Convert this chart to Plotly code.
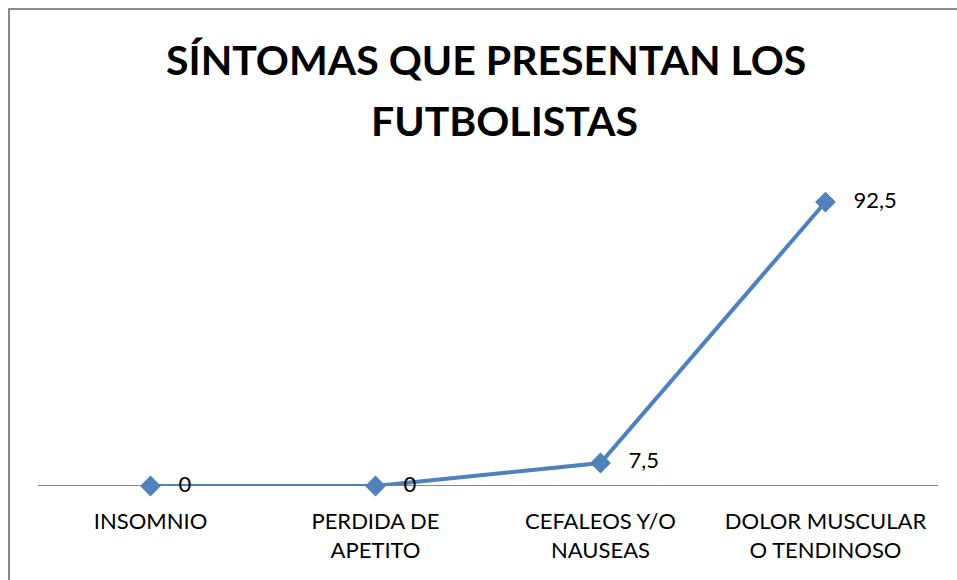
import plotly.graph_objects as go

categories = ["INSOMNIO", "PERDIDA DE<br>APETITO", "CEFALEOS Y/O<br>NAUSEAS", "DOLOR MUSCULAR<br>O TENDINOSO"]
values = [0, 0, 7.5, 92.5]
labels = ["0", "0", "7,5", "92,5"]
title_lines = ["SÍNTOMAS QUE PRESENTAN LOS", "FUTBOLISTAS"]

W, H = 957, 580
L, R, T, B = 38, 19, 179, 94
plot_w = W - L - R
plot_h = H - T - B
FONT = "Lato, Carlito, sans-serif"


def px_to_paper(px, py):
    return (px - L) / plot_w, (H - B - py) / plot_h


fig = go.Figure(go.Scatter(
    x=list(range(len(categories))),
    y=values,
    mode="lines+markers+text",
    line=dict(color="#4F81BD", width=4),
    marker=dict(symbol="diamond", size=16, color="#4F81BD"),
    text=["   " + s for s in labels],
    textposition="middle right",
    textfont=dict(family=FONT, size=22, color="black"),
    cliponaxis=False,
))

# chart border (Excel-style frame, runs off the bottom/right of the image)
fig.add_shape(
    type="rect", xref="paper", yref="paper",
    x0=(9 - L) / plot_w, x1=(W + 20 - L) / plot_w,
    y0=-(B + 20) / plot_h, y1=(H - B - 9) / plot_h,
    line=dict(color="#898989", width=2), layer="below",
)

# two-line chart title, each line centred like Excel does it
for line, (cx, cy) in zip(title_lines, [(486, 59), (504, 121)]):
    ax, ay = px_to_paper(cx, cy)
    fig.add_annotation(
        text=f"<b>{line}</b>", xref="paper", yref="paper", x=ax, y=ay,
        xanchor="center", yanchor="middle", showarrow=False,
        font=dict(family=FONT, size=41, color="black"),
    )

fig.update_layout(
    width=W, height=H,
    margin=dict(l=L, r=R, t=T, b=B),
    paper_bgcolor="white", plot_bgcolor="white",
    showlegend=False,
    xaxis=dict(
        tickmode="array", tickvals=list(range(len(categories))), ticktext=categories,
        range=[-0.5, len(categories) - 0.5],
        showgrid=False, zeroline=False,
        showline=False,
        ticks="outside", ticklen=16, tickcolor="rgba(0,0,0,0)",
        tickfont=dict(family=FONT, size=22, color="black"),
    ),
    yaxis=dict(
        range=[0, 100], visible=False, showgrid=False, zeroline=False,
    ),
)

# horizontal category axis line at y = 0
fig.add_hline(y=0, line=dict(color="#868686", width=2), layer="below")

fig.write_html("out.html", config={"displayModeBar": False},
               post_script="document.body.style.margin='0';")
